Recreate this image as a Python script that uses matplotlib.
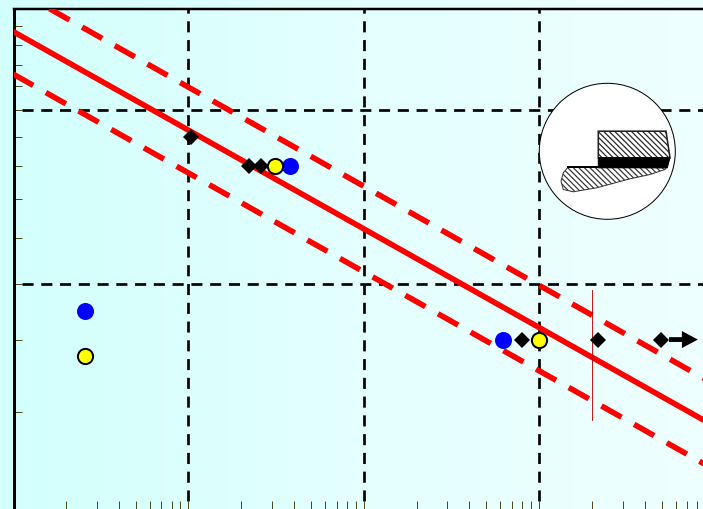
import numpy as np
import matplotlib
matplotlib.use("Agg")
import matplotlib.pyplot as plt
from matplotlib.colors import LinearSegmentedColormap
from matplotlib.patches import Circle, Polygon, FancyArrowPatch

W, H = 703, 510

# --- data (cycles, stress) ---
blue_x = [2.57e4, 3.79e5, 6.22e6]
blue_y = [89.5, 160, 80]
yellow_x = [2.57e4, 3.11e5, 1.0e7]
yellow_y = [75, 160, 80]
diamond_x = [1.03e5, 2.21e5, 2.59e5, 7.99e6, 2.17e7, 4.96e7]
diamond_y = [180, 160, 160, 80, 80, 80]

mean_x = [1.0e4, 9.5e7]
mean_y = [273.8, 57.1]
upper_x = [1.61e4, 9.5e7]
upper_y = [300, 67.5]
lower_x = [1.0e4, 9.5e7]
lower_y = [231, 48]

runout_x = [5.51e7, 8.05e7]
runout_y = [80, 80]
limit_x = [2.0e7, 2.0e7]
limit_y = [57.9, 97.6]

grid_x = [1e5, 1e6, 1e7]
grid_y = [100, 200]
xtick_major = [1e5, 1e6, 1e7]
xtick_minor = [m * 10.0 ** e for e in (4, 5, 6, 7) for m in range(2, 10)]
ytick_vals = list(range(40, 301, 20))

# schematic inset (pixel space)
block = [(598.3, 132.2), (666, 132.2), (670, 158.8), (598.3, 158.8)]
film = [(598.3, 158.8), (670, 158.8), (667.3, 168.8), (598.3, 168.8)]
substrate = [(568.3, 167.8), (666, 168.8), (665, 170.5), (650, 175.5), (630, 179.8),
             (596.7, 188.8), (573.3, 192.8), (563.3, 190.5), (561, 182.2), (563.3, 173.8)]
step = [(568.3, 167.8), (598.3, 167.8)]

px = 1 / 100 * 72  # points per pixel
plt.rcParams["hatch.linewidth"] = 1.2 * px

fig = plt.figure(figsize=(W / 100, H / 100), dpi=100)

bg = fig.add_axes([0, 0, 1, 1], zorder=0)
cmap = LinearSegmentedColormap.from_list("bg", ["#D2FFFC", "#E3FFFE", "#EEFFFF"])
bg.imshow(np.linspace(0, 1, 256)[None, :], aspect="auto", cmap=cmap, extent=[0, 1, 0, 1])
bg.axis("off")

dy = 0.7
left, top = 14.0, 9.0 + dy
ax = fig.add_axes([left / W, 0, (W - left) / W, (H - top) / H], zorder=1)
ax.patch.set_alpha(0)
ax.set_xscale("log")
ax.set_yscale("log")
x_at = lambda p: 10 ** (5 + (p - 188.5) / 175.3)
y_at = lambda p: 100 * 10 ** ((284 + dy - p) / 576.4)

for s in ("right", "bottom"):
    ax.spines[s].set_visible(False)
ax.spines["left"].set_linewidth(3 * px)
ax.spines["top"].set_linewidth(2.5 * px)

tick_col = "#4A4A1C"
ax.set_xticks(xtick_major)
ax.set_xticks(xtick_minor, minor=True)
ax.set_yticks(ytick_vals)
ax.yaxis.set_minor_locator(matplotlib.ticker.NullLocator())
ax.tick_params(axis="both", which="both", direction="in", length=8 * px, width=1 * px,
               color=tick_col, labelbottom=False, labelleft=False)
ax.set_xlim(x_at(left), x_at(W))
ax.set_ylim(y_at(H), y_at(top))

grid_kw = dict(color="black", lw=2.7 * px, dashes=(4.1, 2.85), dash_capstyle="butt", zorder=2)
for gx in grid_x:
    ax.plot([gx, gx], [y_at(502), y_at(top)], **grid_kw)
for gy in grid_y:
    ax.plot([x_at(22), x_at(W)], [gy, gy], **grid_kw)

red_kw = dict(color="#FF0000", lw=5.6 * px, zorder=3)
dash_kw = dict(red_kw, dashes=(4.1, 2.6), dash_capstyle="butt")
ax.plot(mean_x, mean_y, solid_capstyle="butt", **red_kw)
ax.plot(upper_x, upper_y, **dash_kw)
ax.plot(lower_x, lower_y, **dash_kw)
ax.plot(limit_x, limit_y, color="#C80000", lw=0.9 * px, zorder=3)

ax.plot(blue_x, blue_y, ls="none", marker="o", ms=17 * px, mfc="#0000FF", mec="#0000FF", mew=0, zorder=4)
ax.plot(diamond_x, diamond_y, ls="none", marker="D", ms=11.5 * px, mfc="black", mec="black", mew=0, zorder=5)
ax.plot(yellow_x, yellow_y, ls="none", marker="o", ms=15.2 * px, mfc="#FFFF00", mec="black", mew=2 * px, zorder=6)

ax.add_patch(FancyArrowPatch((runout_x[0], runout_y[0]), (runout_x[1], runout_y[1]),
                             arrowstyle=f"simple,tail_width={4.8 * px},head_width={17 * px},head_length={16 * px}",
                             mutation_scale=1, fc="black", ec="none", lw=0, shrinkA=0, shrinkB=0, zorder=6))

ov = fig.add_axes([0, 0, 1, 1], zorder=2)
ov.set_xlim(0, W)
ov.set_ylim(H, 0)
ov.axis("off")
ov.add_patch(Circle((607.3, 152.3), 68.0, fc="white", ec="black", lw=1 * px))
ov.add_patch(Polygon(substrate, closed=True, fc="white", ec="#333333", lw=1 * px, hatch="\\\\\\\\\\\\"))
ov.add_patch(Polygon(block, closed=True, fc="white", ec="#222222", lw=1.6 * px, hatch="\\\\\\\\\\\\"))
ov.add_patch(Polygon(film, closed=True, fc="black", ec="black", lw=1 * px))
ov.plot(*zip(*step), color="black", lw=2 * px)

fig.savefig("out.png", dpi=100)
